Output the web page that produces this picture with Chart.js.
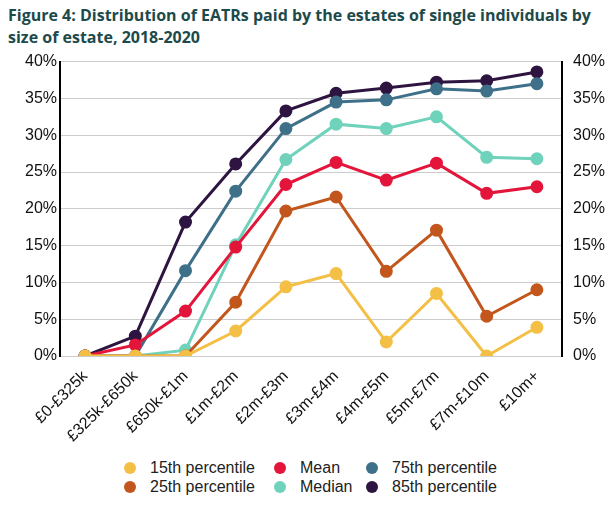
<!DOCTYPE html>
<html>
<head>
<meta charset="utf-8">
<script src="https://cdn.jsdelivr.net/npm/chart.js@4"></script>
<style>
body { margin: 0; background: #fff; font-family: "Open Sans", sans-serif; }
#title { position: absolute; left: 8px; top: 4px; width: 604px; font-weight: bold; font-size: 16px; line-height: 22px; color: #1d4a4a; font-family: "Open Sans", sans-serif; }
#wrap { position: absolute; left: 0; top: 49px; width: 612px; height: 400px; }
#legend { position: absolute; left: 120px; top: 458px; display: grid; grid-template-columns: 150px 92px 160px; row-gap: 0px; font-family: "Liberation Sans", Arial, sans-serif; font-size: 16px; color: #222; }
#legend div { display: flex; align-items: center; height: 19px; }
#legend span.dot { display: inline-block; width: 12px; height: 12px; border-radius: 50%; margin: 0 14px 0 4px; }
</style>
</head>
<body>
<div id="title">Figure 4: Distribution of EATRs paid by the estates of single individuals by size of estate, 2018-2020</div>
<div id="wrap"><canvas id="chart"></canvas></div>
<div id="legend"></div>
<script>
var categories = ['£0-£325k', '£325k-£650k', '£650k-£1m', '£1m-£2m', '£2m-£3m', '£3m-£4m', '£4m-£5m', '£5m-£7m', '£7m-£10m', '£10m+'];
var p15 = [0, 0, 0, 3.4, 9.4, 11.2, 1.9, 8.5, 0, 3.9];
var p25 = [0, 0, 0, 7.3, 19.7, 21.6, 11.5, 17.1, 5.4, 9.0];
var mean = [0, 1.5, 6.1, 14.8, 23.3, 26.3, 23.9, 26.2, 22.1, 23.0];
var median = [0, 0, 0.8, 15.1, 26.7, 31.5, 30.9, 32.5, 27.0, 26.8];
var p75 = [0, 0, 11.6, 22.4, 30.9, 34.5, 34.8, 36.3, 36.0, 37.0];
var p85 = [0, 2.7, 18.2, 26.1, 33.3, 35.7, 36.4, 37.2, 37.4, 38.6];

var series = [
    ['15th percentile', p15, '#f3bf45'],
    ['25th percentile', p25, '#c2561c'],
    ['Mean', mean, '#e3153a'],
    ['Median', median, '#6fd2bb'],
    ['75th percentile', p75, '#3e7189'],
    ['85th percentile', p85, '#2e1541']
];

var datasets = series.map(function(s) {
    return { label: s[0], data: s[1], borderColor: s[2], backgroundColor: s[2],
        borderWidth: 3, pointRadius: 5, pointHoverRadius: 5, tension: 0 };
});

// legend is column-major, 2 rows x 3 columns
var order = [0, 2, 4, 1, 3, 5];
var lg = document.getElementById('legend');
order.forEach(function(i) {
    var d = document.createElement('div');
    d.innerHTML = '<span class="dot" style="background:' + series[i][2] + '"></span>' + series[i][0];
    lg.appendChild(d);
});

var tickFont = { family: 'Liberation Sans', size: 16 };
new Chart(document.getElementById('chart'), {
    type: 'line',
    data: { labels: categories, datasets: datasets },
    options: {
        responsive: true, maintainAspectRatio: false, animation: false,
        layout: { padding: { left: 22, right: 4, top: 4 } },
        plugins: { legend: { display: false }, tooltip: { enabled: false } },
        scales: {
            x: {
                offset: true,
                grid: { display: false },
                border: { display: false },
                ticks: { color: '#111', font: tickFont, maxRotation: 45, minRotation: 45 }
            },
            y: {
                min: 0, max: 40,
                ticks: { stepSize: 5, color: '#111', font: tickFont, callback: function(v) { return v + '%'; } },
                grid: { color: '#cccccc', drawTicks: false },
                border: { color: '#000', width: 2 }
            },
            y2: {
                position: 'right', min: 0, max: 40,
                ticks: { stepSize: 5, color: '#111', font: tickFont, callback: function(v) { return v + '%'; } },
                grid: { display: false },
                border: { color: '#000', width: 2 }
            }
        }
    }
});
</script>
</body>
</html>
